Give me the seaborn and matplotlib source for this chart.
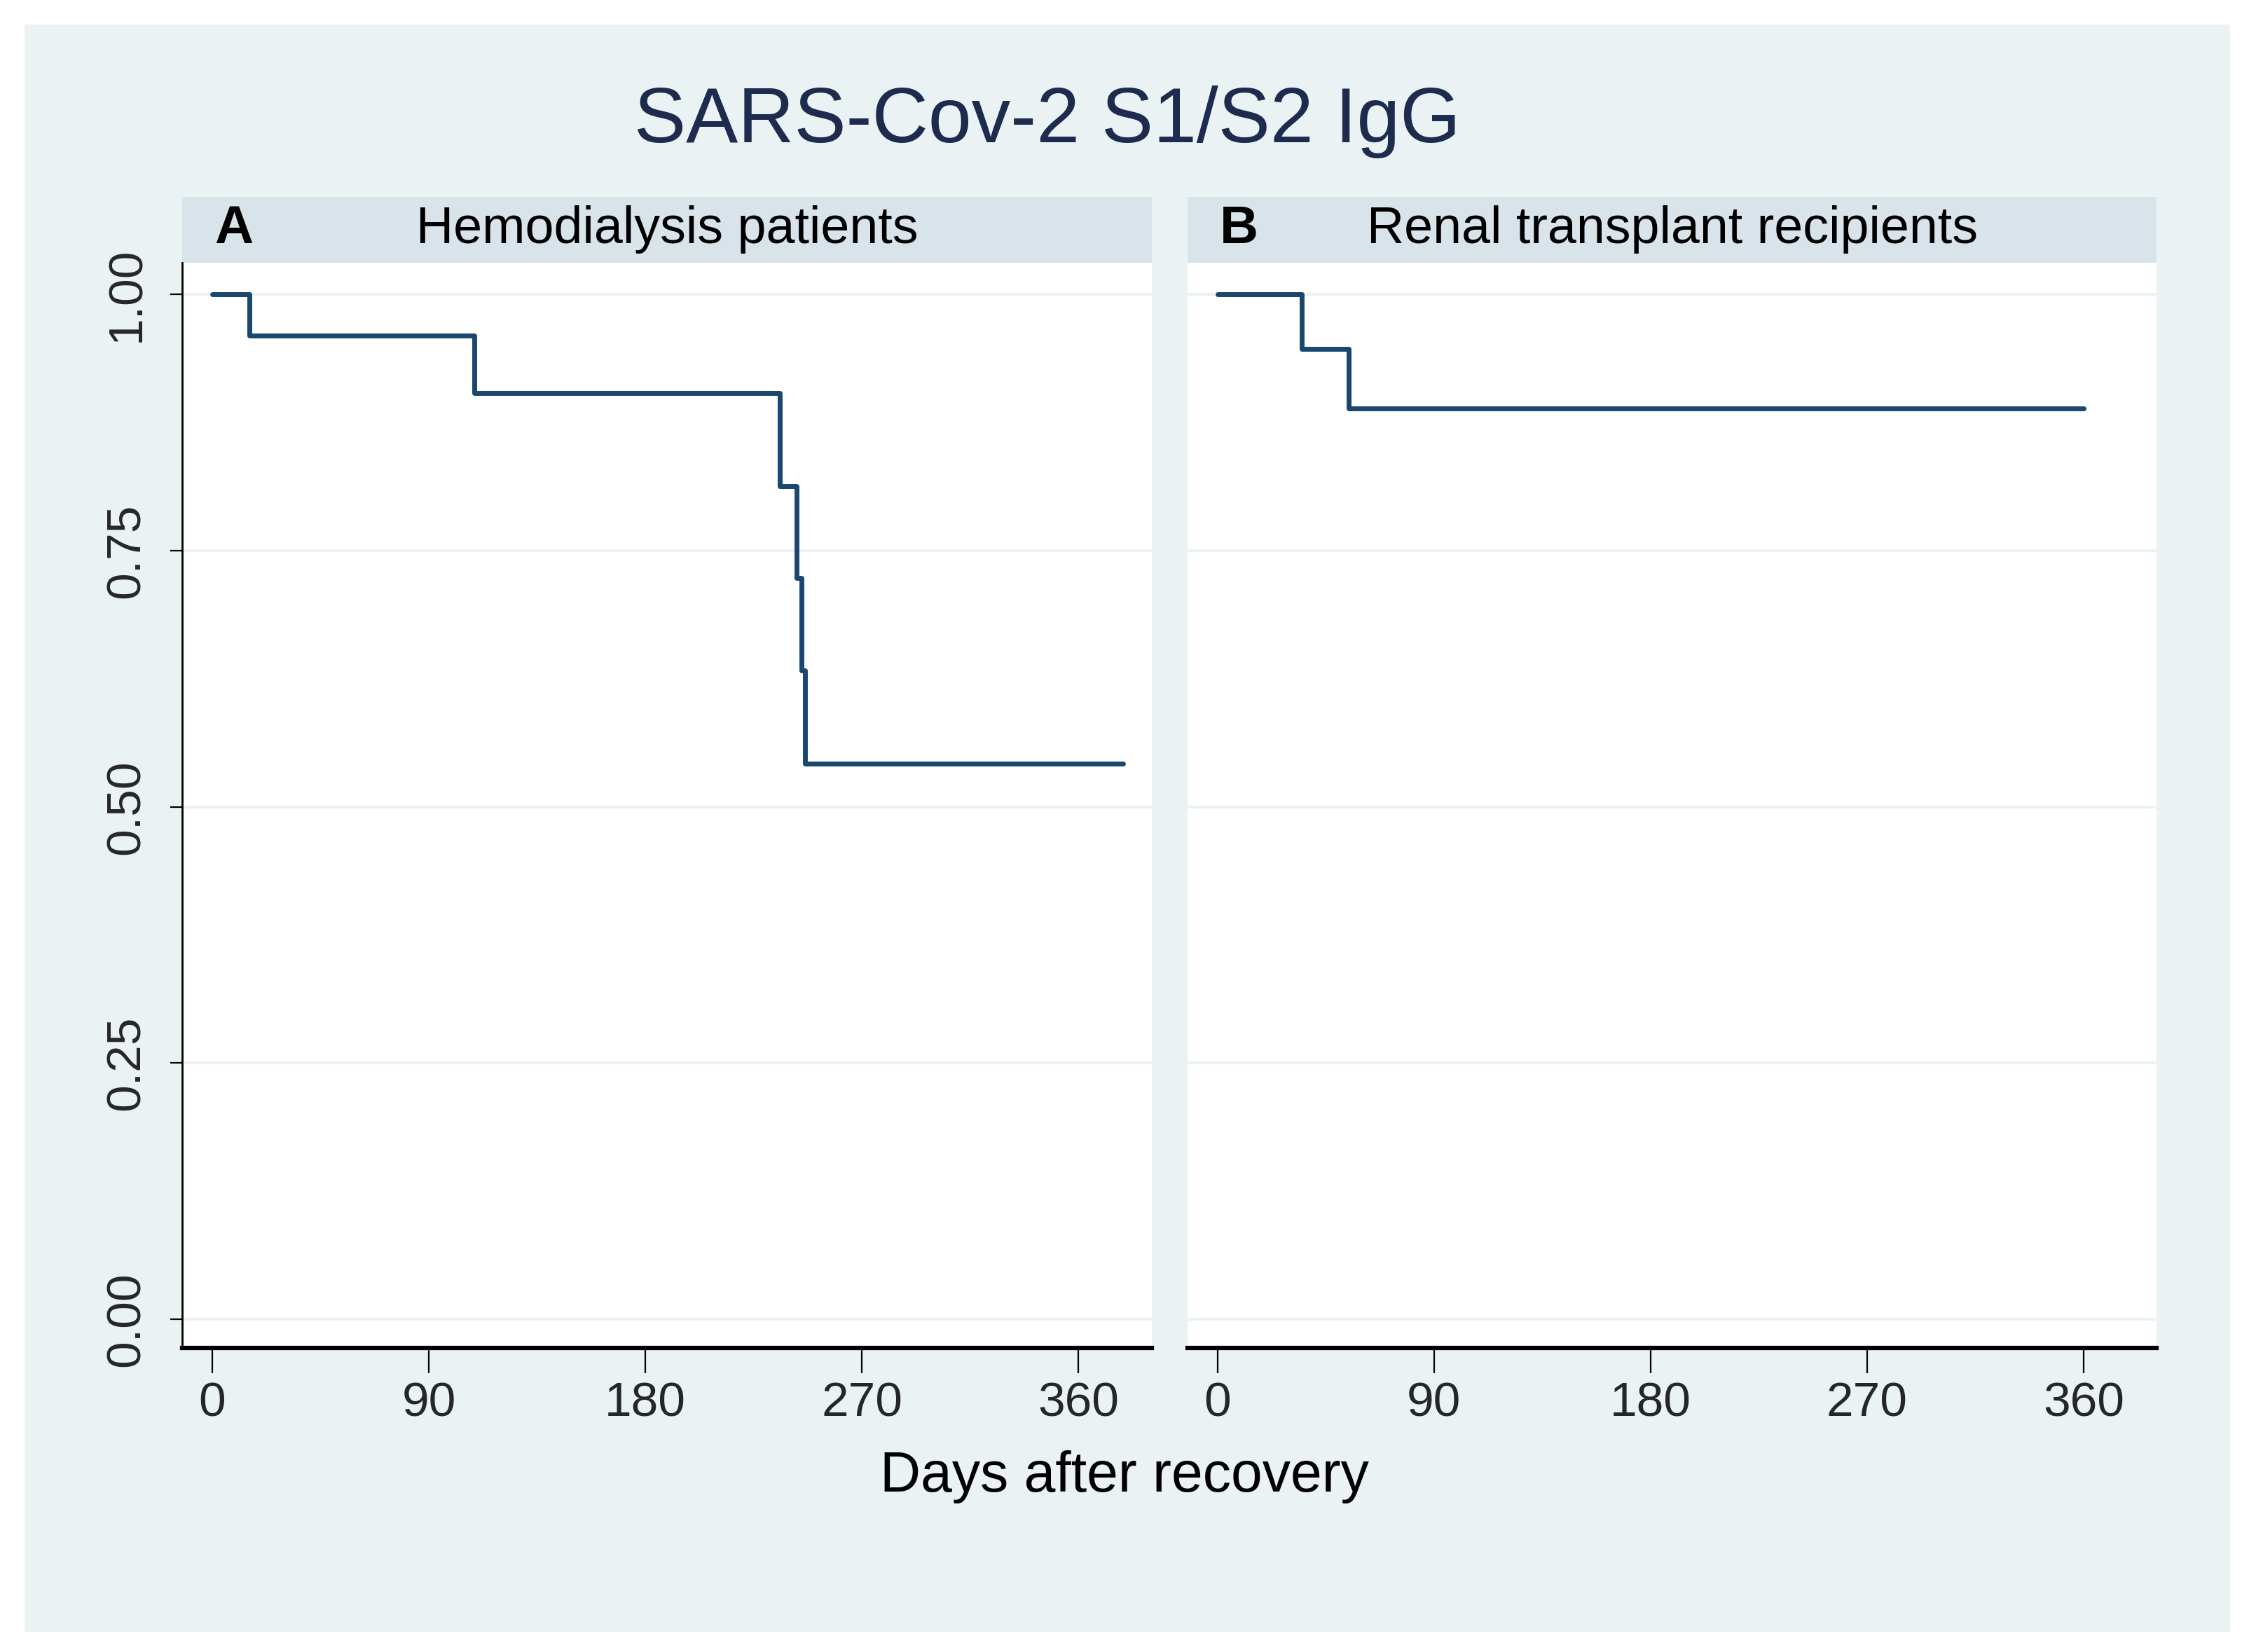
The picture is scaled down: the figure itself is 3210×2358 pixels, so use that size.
import pandas as pd
import matplotlib.pyplot as plt
import matplotlib.patches as mpatches
import seaborn as sns

# ── data ──────────────────────────────────────────────────────────────────────
hd_days = [0, 15.5, 109, 236, 243, 245, 246.5, 378.5]
hd_surv = [1.00, 0.960, 0.904, 0.813, 0.723, 0.633, 0.542, 0.542]
rt_days = [0, 35, 54.5, 360]
rt_surv = [1.00, 0.947, 0.889, 0.889]

panel_letters = ["A", "B"]
panel_titles = ["Hemodialysis patients", "Renal transplant recipients"]
x_ticks = [0, 90, 180, 270, 360]
y_ticks = [0.00, 0.25, 0.50, 0.75, 1.00]
y_ticklabels = ["0.00", "0.25", "0.50", "0.75", "1.00"]

df = pd.concat([
    pd.DataFrame({"day": hd_days, "surv": hd_surv, "group": panel_titles[0]}),
    pd.DataFrame({"day": rt_days, "surv": rt_surv, "group": panel_titles[1]}),
])

# ── style ─────────────────────────────────────────────────────────────────────
sns.set_theme(style="white")
plt.rcParams["font.family"] = ["Liberation Sans", "DejaVu Sans"]

BG = "#EAF2F3"
STRIP = "#D8E4EA"
LINE = "#1A476F"
TITLE = "#1C2B4E"

fig = plt.figure(figsize=(32.1, 23.58), dpi=100)
fig.patch.set_facecolor("white")
fig.add_artist(mpatches.Rectangle((0.0108, 0.0122), 0.9809, 0.973,
                                  transform=fig.transFigure,
                                  facecolor=BG, edgecolor="none", zorder=0))

fig.text(0.4656, 0.926, "SARS-Cov-2 S1/S2 IgG", ha="center", va="center",
         fontsize=80, color=TITLE)

lefts = [0.0810, 0.528]
width_ax = 0.431
bottom, height = 0.184, 0.657
strip_h = 0.040

for i, (left, group) in enumerate(zip(lefts, panel_titles)):
    ax = fig.add_axes([left, bottom, width_ax, height])
    ax.set_facecolor("white")
    ax.set_zorder(2)
    for yv in y_ticks:
        ax.axhline(yv, color=BG, linewidth=3.0, zorder=1)
    sub = df[df["group"] == group]
    sns.lineplot(data=sub, x="day", y="surv", ax=ax, drawstyle="steps-post",
                 color=LINE, linewidth=5.0, estimator=None, zorder=3)
    ax.set_xlim(-12.5, 390.4)
    ax.set_ylim(-0.028, 1.031)
    ax.set_xticks(x_ticks)
    ax.set_xticklabels([str(t) for t in x_ticks])
    ax.set_yticks(y_ticks)
    ax.set_xlabel("")
    ax.set_ylabel("")
    ax.tick_params(axis="x", direction="out", length=26, width=1.6,
                   color="black", labelsize=50, pad=8, bottom=True)
    for s in ["top", "right"]:
        ax.spines[s].set_visible(False)
    ax.spines["bottom"].set_linewidth(4.5)
    ax.spines["bottom"].set_color("black")
    if i == 0:
        ax.set_yticklabels(y_ticklabels, rotation=90, va="center")
        ax.tick_params(axis="y", direction="out", length=12, width=1.6,
                       color="black", labelsize=50, pad=22, left=True)
        ax.spines["left"].set_linewidth(2.0)
        ax.spines["left"].set_color("black")
    else:
        ax.set_yticklabels([])
        ax.tick_params(axis="y", left=False)
        ax.spines["left"].set_visible(False)

    # header strip
    fig.add_artist(mpatches.Rectangle((left, bottom + height), width_ax, strip_h,
                                      transform=fig.transFigure,
                                      facecolor=STRIP, edgecolor="none", zorder=1))
    fig.text(left + 0.023, bottom + height + strip_h / 2, panel_letters[i],
             ha="center", va="center", fontsize=55, fontweight="bold", color="black")
    fig.text(left + width_ax / 2, bottom + height + strip_h / 2, group,
             ha="center", va="center", fontsize=53, color="black")

fig.text(0.50, 0.106, "Days after recovery", ha="center", va="center",
         fontsize=58, color="black")

plt.savefig("out.png", dpi=100)
